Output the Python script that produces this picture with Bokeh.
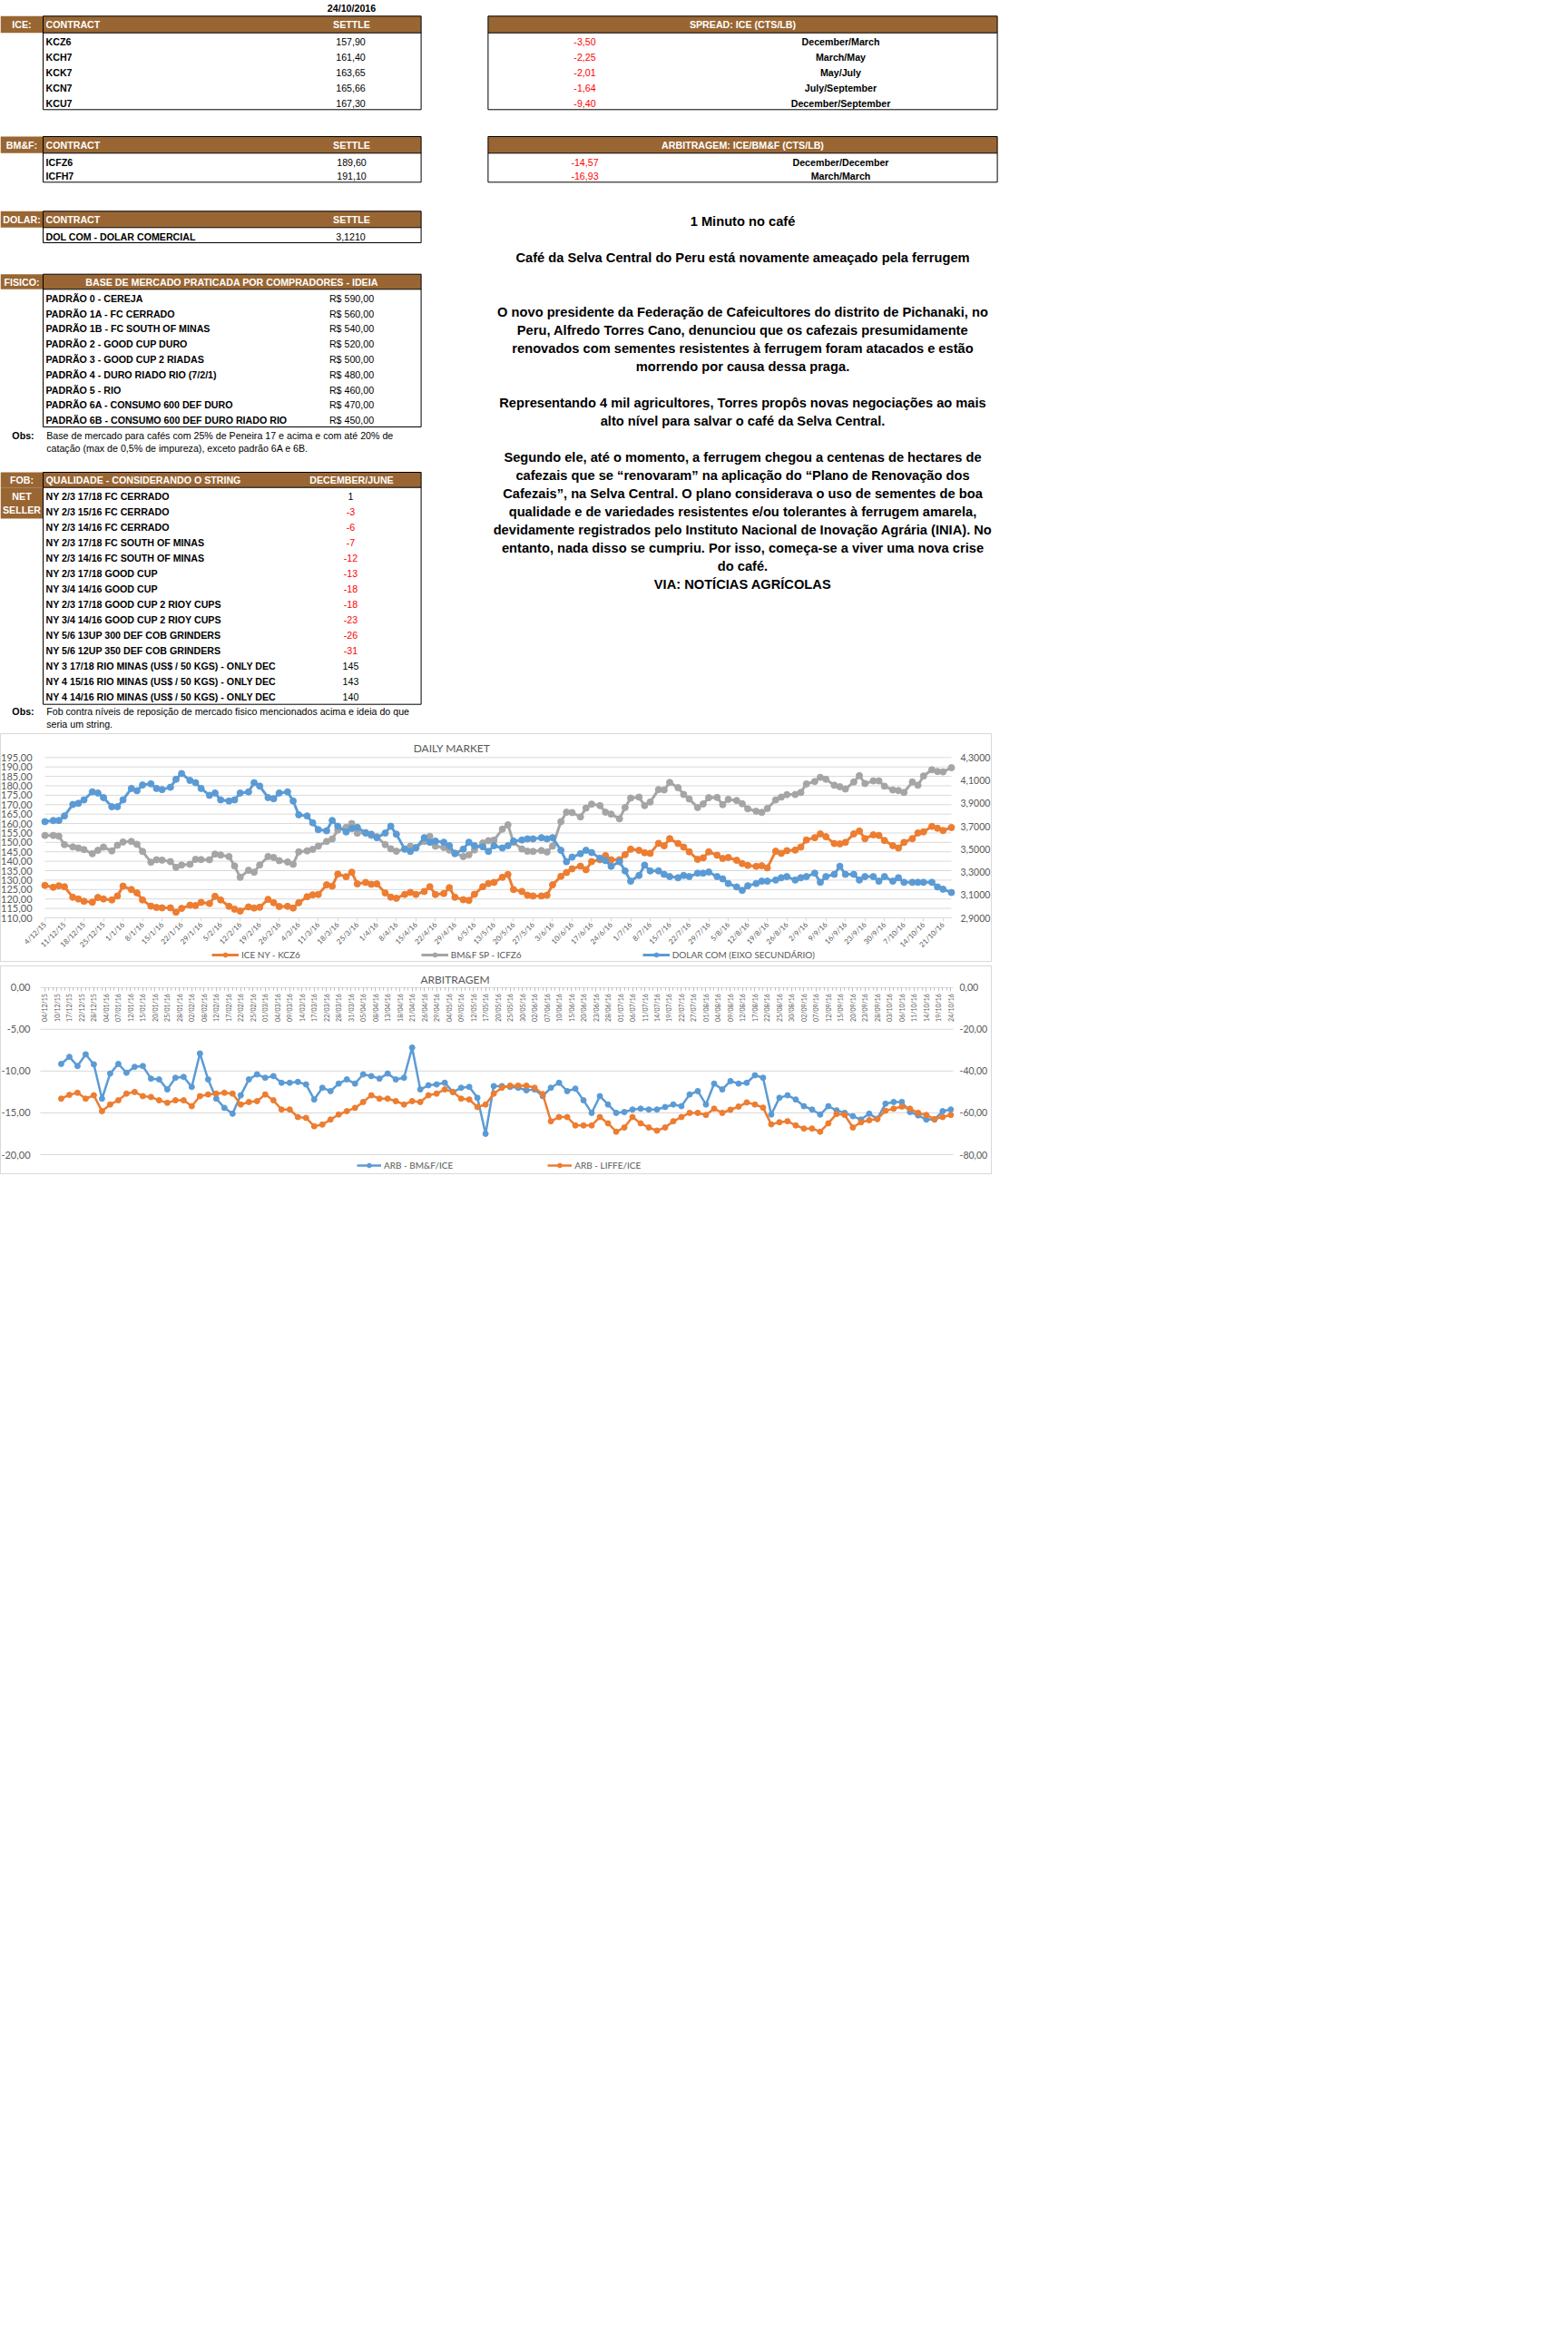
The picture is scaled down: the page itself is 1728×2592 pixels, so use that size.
import pandas as pd
from math import pi
from bokeh.plotting import figure
from bokeh.models import (Range1d, LinearAxis, FixedTicker, CustomJSTickFormatter, Legend,
                          LegendItem, Label, ColumnDataSource)
from bokeh.layouts import column
from bokeh.core.properties import value
from bokeh.embed import file_html
from bokeh.resources import INLINE

# ------------------------------------------------------------------ data
report_date = "24/10/2016"

ice_contracts = ["KCZ6", "KCH7", "KCK7", "KCN7", "KCU7"]
ice_settle = [157.90, 161.40, 163.65, 165.66, 167.30]
spread_values = [-3.50, -2.25, -2.01, -1.64, -9.40]
spread_labels = ["December/March", "March/May", "May/July", "July/September", "December/September"]

bmf_contracts = ["ICFZ6", "ICFH7"]
bmf_settle = [189.60, 191.10]
arbit_values = [-14.57, -16.93]
arbit_labels = ["December/December", "March/March"]

dolar_contracts = ["DOL COM - DOLAR COMERCIAL"]
dolar_settle = [3.1210]

fisico_labels = ["PADRÃO 0 - CEREJA", "PADRÃO 1A - FC CERRADO", "PADRÃO 1B - FC SOUTH OF MINAS",
                 "PADRÃO 2 - GOOD CUP DURO", "PADRÃO 3 - GOOD CUP 2 RIADAS",
                 "PADRÃO 4 - DURO RIADO RIO (7/2/1)", "PADRÃO 5 - RIO",
                 "PADRÃO 6A - CONSUMO 600 DEF DURO", "PADRÃO 6B - CONSUMO 600 DEF DURO RIADO RIO"]
fisico_values = [590, 560, 540, 520, 500, 480, 460, 470, 450]
fisico_obs = ["Base de mercado para cafés com 25% de Peneira 17 e acima e com até 20% de",
              "catação (max de 0,5% de impureza), exceto padrão 6A e 6B."]

fob_labels = ["NY 2/3 17/18 FC CERRADO", "NY 2/3 15/16 FC CERRADO", "NY 2/3 14/16 FC CERRADO",
              "NY 2/3 17/18 FC SOUTH OF MINAS", "NY 2/3 14/16 FC SOUTH OF MINAS",
              "NY 2/3 17/18 GOOD CUP", "NY 3/4 14/16 GOOD CUP", "NY 2/3 17/18 GOOD CUP 2 RIOY CUPS",
              "NY 3/4 14/16 GOOD CUP 2 RIOY CUPS", "NY 5/6 13UP 300 DEF COB GRINDERS",
              "NY 5/6 12UP 350 DEF COB GRINDERS", "NY 3 17/18 RIO MINAS (US$ / 50 KGS) - ONLY DEC",
              "NY 4 15/16 RIO MINAS (US$ / 50 KGS) - ONLY DEC", "NY 4 14/16 RIO MINAS (US$ / 50 KGS) - ONLY DEC"]
fob_values = [1, -3, -6, -7, -12, -13, -18, -18, -23, -26, -31, 145, 143, 140]
fob_obs = ["Fob contra níveis de reposição de mercado fisico mencionados acima e ideia do que",
           "seria um string."]

news_title = ["1 Minuto no café", "Café da Selva Central do Peru está novamente ameaçado pela ferrugem"]
news_lines = [
    "O novo presidente da Federação de Cafeicultores do distrito de Pichanaki, no",
    "Peru, Alfredo Torres Cano, denunciou que os cafezais presumidamente",
    "renovados com sementes resistentes à ferrugem foram atacados e estão",
    "morrendo por causa dessa praga.",
    "",
    "Representando 4 mil agricultores, Torres propôs novas negociações ao mais",
    "alto nível para salvar o café da Selva Central.",
    "",
    "Segundo ele, até o momento, a ferrugem chegou a centenas de hectares de",
    "cafezais que se “renovaram” na aplicação do “Plano de Renovação dos",
    "Cafezais”, na Selva Central. O plano considerava o uso de sementes de boa",
    "qualidade e de variedades resistentes e/ou tolerantes à ferrugem amarela,",
    "devidamente registrados pelo Instituto Nacional de Inovação Agrária (INIA). No",
    "entanto, nada disso se cumpriu. Por isso, começa-se a viver uma nova crise",
    "do café.",
    "VIA: NOTÍCIAS AGRÍCOLAS",
]

# DAILY MARKET: samples on Mon/Wed/Fri from 4/12/15 to 24/10/16
daily_start = pd.Timestamp("2015-12-04")
_all = pd.date_range("2015-12-04", "2016-10-24", freq="D")
daily_dates = _all[_all.weekday.isin([0, 2, 4])]
daily_x = list((daily_dates - daily_start).days)

ice_kcz6 = [127.2,
    126.2, 127.0, 126.5,  120.9, 120.0, 118.8,  118.3, 120.8, 120.0,  119.5, 121.6, 126.8,
    125.0, 123.2, 119.5,  116.2, 115.5, 115.3,  115.3, 113.0, 115.0,  116.7, 116.5, 118.2,
    117.6, 121.4, 119.5,  116.1, 114.6, 113.6,  115.8, 115.2, 115.6,  119.8, 118.0, 116.0,
    116.1, 115.2, 118.0,  121.2, 122.2, 122.4,  127.5, 126.8, 133.2,  131.8, 134.2, 128.0,
    128.8, 127.8, 128.0,  123.2, 121.0, 120.4,  122.4, 123.5, 122.4,  124.0, 126.5, 122.4,
    122.9, 126.0, 120.9,  119.6, 119.2, 122.5,  126.5, 128.2, 128.8,  131.5, 133.0, 125.0,
    124.0, 122.0, 121.6,  121.6, 122.0, 127.5,  132.0, 134.0, 136.0,  137.4, 135.5, 139.8,
    140.8, 143.0, 140.8,  140.8, 143.5, 146.4,  145.8, 144.5, 144.2,  149.5, 148.2, 152.0,
    149.4, 147.5, 145.0,  141.0, 141.8, 145.0,  143.2, 141.5, 142.0,  140.5, 138.8, 137.8,
    137.3, 137.6, 136.5,  145.3, 144.2, 145.6,  145.9, 147.5, 151.3,  152.5, 154.5, 153.0,
    149.4, 149.2, 150.0,  154.5, 156.0, 152.0,  154.0, 153.7, 151.0,  148.3, 147.0, 150.0,
    152.0, 155.0, 155.6,  158.5, 157.5, 156.3,
    157.9]

bmf_icfz6 = [153.7,
    153.7, 153.3, 148.8,  147.6, 147.0, 146.2,  144.0, 145.8, 147.5,  145.5, 148.5, 150.2,
    150.5, 149.0, 145.2,  139.5, 140.8, 140.6,  139.8, 136.8, 138.0,  138.4, 141.0, 140.9,
    140.8, 143.8, 143.3,  142.5, 137.5, 131.5,  135.2, 134.2, 138.0,  142.5, 142.0, 140.3,
    139.6, 138.4, 145.0,  145.5, 146.3, 148.0,  150.5, 151.8, 156.5,  158.0, 160.0, 154.9,
    155.2, 153.7, 153.0,  148.8, 146.6, 145.3,  146.5, 148.0, 147.3,  150.5, 153.2, 148.0,
    147.3, 145.9, 144.3,  142.5, 143.4, 146.0,  149.7, 150.9, 151.2,  157.0, 159.3, 150.0,
    146.5, 145.3, 145.2,  145.7, 144.9, 148.0,  161.0, 166.0, 165.8,  163.5, 168.2, 170.3,
    169.5, 166.0, 165.0,  162.5, 168.5, 173.5,  174.0, 169.5, 171.4,  178.0, 177.8, 181.8,
    179.0, 175.4, 173.0,  168.5, 170.4, 173.7,  173.8, 170.0, 172.8,  172.2, 170.5, 167.8,
    166.5, 165.9, 168.0,  172.5, 174.0, 175.3,  175.4, 176.5, 181.0,  182.3, 184.5, 183.5,
    180.3, 179.5, 178.3,  182.0, 185.4, 181.2,  182.6, 182.6, 179.8,  177.8, 177.5, 176.5,
    182.0, 180.3, 185.2,  188.5, 187.6, 187.4,
    189.6]

dolar_com = [3.74,
    3.75, 3.75, 3.79,  3.89, 3.90, 3.93,  4.00, 3.99, 3.95,  3.87, 3.87, 3.93,
    4.03, 4.01, 4.06,  4.07, 4.03, 4.02,  4.04, 4.11, 4.16,  4.10, 4.08, 4.03,
    3.97, 3.99, 3.93,  3.92, 3.93, 3.99,  4.00, 4.08, 4.05,  3.95, 3.94, 3.99,
    4.00, 3.92, 3.80,  3.79, 3.73, 3.67,  3.66, 3.75, 3.70,  3.65, 3.68, 3.69,
    3.64, 3.63, 3.60,  3.64, 3.70, 3.63,  3.50, 3.48, 3.51,  3.60, 3.56, 3.57,
    3.56, 3.53, 3.46,  3.50, 3.56, 3.53,  3.52, 3.48, 3.53,  3.51, 3.53, 3.57,
    3.58, 3.59, 3.59,  3.60, 3.59, 3.60,  3.49, 3.39, 3.43,  3.46, 3.49, 3.47,
    3.42, 3.40, 3.35,  3.39, 3.31, 3.22,  3.27, 3.36, 3.31,  3.31, 3.28, 3.26,
    3.25, 3.27, 3.26,  3.29, 3.29, 3.30,  3.26, 3.24, 3.20,  3.17, 3.14, 3.18,
    3.20, 3.22, 3.22,  3.23, 3.25, 3.26,  3.23, 3.25, 3.26,  3.29, 3.21, 3.26,
    3.28, 3.35, 3.28,  3.28, 3.23, 3.26,  3.26, 3.22, 3.26,  3.22, 3.25, 3.21,
    3.21, 3.21, 3.21,  3.21, 3.17, 3.15,
    3.121]

daily_tick_labels = ["4/12/15", "11/12/15", "18/12/15", "25/12/15", "1/1/16", "8/1/16", "15/1/16",
    "22/1/16", "29/1/16", "5/2/16", "12/2/16", "19/2/16", "26/2/16", "4/3/16", "11/3/16", "18/3/16",
    "25/3/16", "1/4/16", "8/4/16", "15/4/16", "22/4/16", "29/4/16", "6/5/16", "13/5/16", "20/5/16",
    "27/5/16", "3/6/16", "10/6/16", "17/6/16", "24/6/16", "1/7/16", "8/7/16", "15/7/16", "22/7/16",
    "29/7/16", "5/8/16", "12/8/16", "19/8/16", "26/8/16", "2/9/16", "9/9/16", "16/9/16", "23/9/16",
    "30/9/16", "7/10/16", "14/10/16", "21/10/16"]
daily_tick_days = [7 * k for k in range(len(daily_tick_labels))]
daily_left_ticks = list(range(110, 200, 5))
daily_usd_ticks = [2.9, 3.1, 3.3, 3.5, 3.7, 3.9, 4.1, 4.3]

# ARBITRAGEM: category axis (trading days), one label every 3 categories
arb_tick_labels = ["04/12/15", "10/12/15", "17/12/15", "22/12/15", "28/12/15", "04/01/16", "07/01/16",
    "12/01/16", "15/01/16", "20/01/16", "25/01/16", "28/01/16", "02/02/16", "08/02/16", "12/02/16",
    "17/02/16", "22/02/16", "25/02/16", "01/03/16", "04/03/16", "09/03/16", "14/03/16", "17/03/16",
    "22/03/16", "28/03/16", "31/03/16", "05/04/16", "08/04/16", "13/04/16", "18/04/16", "21/04/16",
    "26/04/16", "29/04/16", "04/05/16", "09/05/16", "12/05/16", "17/05/16", "20/05/16", "25/05/16",
    "30/05/16", "02/06/16", "07/06/16", "10/06/16", "15/06/16", "20/06/16", "23/06/16", "28/06/16",
    "01/07/16", "06/07/16", "11/07/16", "14/07/16", "19/07/16", "22/07/16", "27/07/16", "01/08/16",
    "04/08/16", "09/08/16", "12/08/16", "17/08/16", "22/08/16", "25/08/16", "30/08/16", "02/09/16",
    "07/09/16", "12/09/16", "15/09/16", "20/09/16", "23/09/16", "28/09/16", "03/10/16", "06/10/16",
    "11/10/16", "14/10/16", "19/10/16", "24/10/16"]
arb_n_categories = 3 * (len(arb_tick_labels) - 1) + 1
arb_x = list(range(4, arb_n_categories, 2))

arb_bmf_ice = [
    -9.15, -8.3, -9.4, -8.0, -9.2, -13.3, -10.3, -9.15, -10.2, -9.5,
    -9.4, -10.9, -11.0, -12.2, -10.8, -10.7, -11.9, -7.9, -11.0, -13.3,
    -14.4, -15.1, -12.9, -11.0, -10.4, -10.8, -10.6, -11.4, -11.4, -11.3,
    -11.6, -13.4, -12.0, -12.4, -11.5, -11.0, -11.5, -10.4, -10.6, -10.9,
    -10.3, -11.0, -10.8, -7.2, -12.2, -11.7, -11.6, -11.4, -12.5, -12.0,
    -11.9, -13.2, -17.5, -11.8, -11.8, -11.9, -12.0, -12.3, -12.2, -13.0,
    -12.0, -11.4, -12.4, -12.1, -13.5, -15.0, -13.0, -14.0, -15.0, -14.9,
    -14.6, -14.5, -14.6, -14.6, -14.3, -14.0, -14.2, -12.8, -12.4, -14.0,
    -11.5, -12.2, -11.2, -11.5, -11.4, -10.5, -10.8, -15.2, -13.2, -12.9,
    -13.4, -14.2, -14.6, -15.2, -14.2, -14.7, -15.0, -15.4, -15.8, -15.1,
    -15.7, -13.9, -13.7, -13.7, -14.9, -15.3, -15.8, -15.8, -14.8, -14.6]

arb_liffe_ice = [
    -53.2, -51.4, -50.4, -53.2, -51.6, -59.2, -56.0, -54.0, -50.8, -50.0,
    -52.0, -52.4, -54.0, -55.2, -54.0, -54.0, -56.8, -52.0, -51.2, -50.8,
    -50.4, -50.8, -56.0, -54.8, -54.4, -51.2, -54.0, -58.4, -58.4, -62.0,
    -62.4, -66.4, -65.6, -63.2, -60.8, -59.2, -57.6, -54.8, -51.6, -53.2,
    -53.2, -54.4, -56.0, -54.4, -54.8, -51.6, -50.8, -48.8, -50.0, -53.2,
    -53.6, -57.2, -56.0, -50.8, -48.0, -47.0, -47.0, -47.0, -48.0, -51.0,
    -64.0, -62.0, -62.0, -66.0, -66.0, -66.0, -62.0, -65.0, -69.0, -67.0,
    -62.0, -65.0, -67.0, -68.5, -67.0, -64.0, -62.0, -60.0, -60.0, -61.0,
    -58.0, -60.0, -58.5, -57.0, -55.0, -56.0, -57.5, -65.5, -64.5, -64.0,
    -66.0, -67.5, -67.5, -69.0, -65.0, -60.5, -61.0, -67.0, -64.5, -63.5,
    -63.0, -59.0, -58.0, -57.0, -58.0, -60.0, -61.0, -63.0, -62.0, -61.0]
arb_left_ticks = [-20, -15, -10, -5, 0]
arb_right_ticks = [-80, -60, -40, -20, 0]

# ------------------------------------------------------------------ styles
BROWN = "#996633"
RED = "#ff0000"
ORANGE = "#ed7d31"
GRAY = "#a5a5a5"
BLUE = "#5b9bd5"
GRID = "#d9d9d9"
AXTXT = "#595959"
TFONT = "Liberation Sans"
CFONT = "Lato"
TSIZE = "10.67px"
NSIZE = "14.67px"


def br(v, nd=2):
    return f"{v:.{nd}f}".replace(".", ",")


# ------------------------------------------------------------------ sheet (tables + text)
W1, H1 = 1100, 808
t = figure(width=W1, height=H1, x_range=Range1d(0, W1), y_range=Range1d(H1, 0),
           output_backend="svg", toolbar_location=None, x_axis_type=None, y_axis_type=None,
           min_border=0, outline_line_color=None)
t.frame_align = False

XA, XB, XC = 0, 47, 463.6        # label cell / left tables
XS1, XS2 = 537.4, 1098.6         # right tables

ICE_H, ICE_B = (17.3, 35.7), 120.3
BMF_H, BMF_B = (150.0, 168.3), 200.3
DOL_H, DOL_B = (232.3, 250.3), 267.0
FIS_H, FIS_B = (301.7, 318.3), 470.0
FOB_H, FOB_B = (520.0, 536.7), 775.7

browns = [(XA, XB, ICE_H), (XB, XC, ICE_H), (XS1, XS2, ICE_H),
          (XA, XB, BMF_H), (XB, XC, BMF_H), (XS1, XS2, BMF_H),
          (XA, XB, DOL_H), (XB, XC, DOL_H),
          (XA, XB, FIS_H), (XB, XC, FIS_H),
          (XA, XB, FOB_H), (XB, XC, FOB_H), (XA, XB, (FOB_H[1], 571.0))]
t.quad(left=[b[0] for b in browns], right=[b[1] for b in browns],
       top=[b[2][0] for b in browns], bottom=[b[2][1] for b in browns],
       fill_color=BROWN, line_color=None)

boxes = [(XB, XC, ICE_H, ICE_B), (XS1, XS2, ICE_H, ICE_B), (XB, XC, BMF_H, BMF_B),
         (XS1, XS2, BMF_H, BMF_B), (XB, XC, DOL_H, DOL_B), (XB, XC, FIS_H, FIS_B),
         (XB, XC, FOB_H, FOB_B)]
t.quad(left=[b[0] for b in boxes], right=[b[1] for b in boxes],
       top=[b[2][0] for b in boxes], bottom=[b[3] for b in boxes],
       fill_color=None, line_color="#000000", line_width=1)
t.segment(x0=[b[0] for b in boxes], x1=[b[1] for b in boxes],
          y0=[b[2][1] for b in boxes], y1=[b[2][1] for b in boxes],
          line_color="#000000", line_width=1)


def txt(xs, ys, texts, color="#000000", bold=True, align="left", size=TSIZE):
    t.text(x=xs, y=ys, text=texts, text_color=color, text_font=value(TFONT),
           text_font_style="bold" if bold else "normal", text_font_size=size,
           text_align=align, text_baseline="middle")


def mid(h):
    return (h[0] + h[1]) / 2


# header texts (white)
hy = [mid(ICE_H), mid(BMF_H), mid(DOL_H), mid(FIS_H), mid(FOB_H)]
txt([23.5] * 5, hy, ["ICE:", "BM&F:", "DOLAR:", "FISICO:", "FOB:"], "#ffffff", align="center")
txt([23.5, 23.5], [546.0, 561.0], ["NET", "SELLER"], "#ffffff", align="center")
txt([50, 50, 50, 50], [mid(ICE_H), mid(BMF_H), mid(DOL_H), mid(FOB_H)],
    ["CONTRACT", "CONTRACT", "CONTRACT", "QUALIDADE - CONSIDERANDO O STRING"], "#ffffff")
txt([387, 387, 387, 387, 255, 818, 818],
    [mid(ICE_H), mid(BMF_H), mid(DOL_H), mid(FOB_H), mid(FIS_H), mid(ICE_H), mid(BMF_H)],
    ["SETTLE", "SETTLE", "SETTLE", "DECEMBER/JUNE", "BASE DE MERCADO PRATICADA POR COMPRADORES - IDEIA",
     "SPREAD: ICE (CTS/LB)", "ARBITRAGEM: ICE/BM&F (CTS/LB)"], "#ffffff", align="center")

# date
txt([387], [8.3], [report_date], align="center")

# row positions
ice_y = [45.0 + 17 * k for k in range(len(ice_contracts))]
bmf_y = [178.0 + 15 * k for k in range(len(bmf_contracts))]
dol_y = [260.0]
fis_y = [328.3 + 16.8 * k for k in range(len(fisico_labels))]
fob_y = [546.7 + 17 * k for k in range(len(fob_labels))]

# left labels (bold)
txt([50] * 5, ice_y, ice_contracts)
txt([50] * 2, bmf_y, bmf_contracts)
txt([50], dol_y, dolar_contracts)
txt([50] * len(fisico_labels), fis_y, fisico_labels)
txt([50] * len(fob_labels), fob_y, fob_labels)

# settle numbers (regular)
txt([386] * 5, ice_y, [br(v) for v in ice_settle], bold=False, align="center")
txt([387] * 2, bmf_y, [br(v) for v in bmf_settle], bold=False, align="center")
txt([386], dol_y, [br(v, 4) for v in dolar_settle], bold=False, align="center")
txt([387] * len(fisico_values), fis_y, ["R$ " + br(v) for v in fisico_values], bold=False, align="center")
fob_txt = [str(v) for v in fob_values]
fob_col = [RED if v < 0 else "#000000" for v in fob_values]
t.text(x=[386] * len(fob_values), y=fob_y, text=fob_txt, text_color=fob_col, text_font=value(TFONT),
       text_font_size=TSIZE, text_align="center", text_baseline="middle")

# spreads / arbitrage
txt([644] * 5, ice_y, [br(v) for v in spread_values], RED, bold=False, align="center")
txt([926] * 5, ice_y, spread_labels, align="center")
txt([644] * 2, bmf_y, [br(v) for v in arbit_values], RED, bold=False, align="center")
txt([926] * 2, bmf_y, arbit_labels, align="center")

# obs
txt([25, 25], [479.0, 783.3], ["Obs:", "Obs:"], align="center")
txt([50.7, 50.7], [479.0, 493.3], fisico_obs, bold=False)
txt([50.7, 50.7], [783.3, 797.3], fob_obs, bold=False)

# news
txt([818, 818], [243.0, 283.0], news_title, align="center", size=NSIZE)
ny = [343.0 + 20 * k for k in range(len(news_lines))]
txt([818] * len(news_lines), ny, news_lines, align="center", size=NSIZE)


# ------------------------------------------------------------------ chart helpers
def yaxis(at, rng=None, ticks=None, nd=2, standoff=8, size="11px"):
    kw = dict(fixed_location=at, ticker=FixedTicker(ticks=ticks),
              formatter=CustomJSTickFormatter(code=f"return tick.toFixed({nd}).replace('.', ',');"),
              axis_line_color=None, major_tick_line_color=None, minor_tick_line_color=None,
              major_label_text_font=CFONT, major_label_text_font_size=size,
              major_label_text_color=AXTXT, major_label_standoff=standoff)
    if rng:
        kw["y_range_name"] = rng
    return LinearAxis(**kw)


def span_range(v0, v1, p0, p1, size):
    """data range so that v0 sits at pixel p0 and v1 at pixel p1 of a canvas of given size"""
    u = (v1 - v0) / (p1 - p0)
    return v0 - p0 * u, v0 + (size - p0) * u


# ------------------------------------------------------------------ DAILY MARKET
D_W, D_H = 1093, 252
D_XL, D_XR = 48, 1047           # pixel position of first / last day
D_Y195, D_Y110 = 25.3, 202.0    # pixel rows (from top) of 195 and 110
d_x0, d_x1 = span_range(0, 325, D_XL, D_XR, D_W)
d_ylo, d_yhi = span_range(110, 195, D_H - D_Y110, D_H - D_Y195, D_H)
d_ulo, d_uhi = span_range(2.9, 4.3, D_H - D_Y110, D_H - D_Y195, D_H)

daily = figure(width=D_W, height=D_H, x_range=Range1d(d_x0, d_x1), y_range=Range1d(d_ylo, d_yhi),
               output_backend="svg", toolbar_location=None, x_axis_type=None, y_axis_type=None,
               min_border=0, outline_line_color=None)
daily.frame_align = False
daily.styles = {"border": "1px solid #d9d9d9"}
daily.extra_y_ranges = {"usd": Range1d(d_ulo, d_uhi)}

daily.segment(x0=[0] * len(daily_left_ticks), x1=[325] * len(daily_left_ticks),
              y0=daily_left_ticks, y1=daily_left_ticks, line_color=GRID, line_width=1)

xax = LinearAxis(fixed_location=110, bounds=(0, 325), ticker=FixedTicker(ticks=daily_tick_days),
                 major_label_overrides={d: s for d, s in zip(daily_tick_days, daily_tick_labels)},
                 major_label_orientation=pi / 4, axis_line_color=GRID, major_tick_line_color=GRID,
                 major_tick_in=0, major_tick_out=4, minor_tick_line_color=None,
                 major_label_text_font=CFONT, major_label_text_font_size="8px",
                 major_label_text_color=AXTXT, major_label_standoff=2)
daily.add_layout(xax, "below")
daily.add_layout(yaxis(0, ticks=daily_left_ticks, nd=2, standoff=8), "left")
daily.add_layout(yaxis(325, "usd", daily_usd_ticks, nd=4, standoff=4, size="10.5px"), "right")

dsrc = ColumnDataSource(dict(x=daily_x, ice=ice_kcz6, bmf=bmf_icfz6, usd=dolar_com))
l1 = daily.line("x", "ice", source=dsrc, line_color=ORANGE, line_width=3)
s1 = daily.scatter("x", "ice", source=dsrc, marker="circle", size=7, fill_color=ORANGE, line_color=ORANGE)
l2 = daily.line("x", "bmf", source=dsrc, line_color=GRAY, line_width=3)
s2 = daily.scatter("x", "bmf", source=dsrc, marker="circle", size=7, fill_color=GRAY, line_color=GRAY)
l3 = daily.line("x", "usd", source=dsrc, y_range_name="usd", line_color=BLUE, line_width=3)
s3 = daily.scatter("x", "usd", source=dsrc, y_range_name="usd", marker="circle", size=7,
                   fill_color=BLUE, line_color=BLUE)

daily.add_layout(Legend(items=[LegendItem(label="ICE NY - KCZ6", renderers=[l1, s1]),
                               LegendItem(label="BM&F SP - ICFZ6", renderers=[l2, s2]),
                               LegendItem(label="DOLAR COM (EIXO SECUNDÁRIO)", renderers=[l3, s3])],
                        location=(232, 3), orientation="horizontal", spacing=133, glyph_width=30,
                        glyph_height=12, label_height=12, label_standoff=3, padding=0, margin=0,
                        border_line_color=None, background_fill_alpha=0, label_text_font=CFONT,
                        label_text_font_size="10px", label_text_color=AXTXT))
daily.add_layout(Label(x=d_x0 + 496.5 * (d_x1 - d_x0) / D_W, y=d_yhi - 15 * (d_yhi - d_ylo) / D_H,
                       text="DAILY MARKET", text_align="center", text_baseline="middle",
                       text_font=CFONT, text_font_size="12px", text_color=AXTXT))

# ------------------------------------------------------------------ ARBITRAGEM
A_W, A_H = 1093, 230
A_XL, A_XR = 43, 1049           # pixel position of the plot-area edges
A_C0, A_C1 = -1.1, 222.6        # category coordinates at those edges
A_Y0, A_Y20 = 22.7, 207.0       # pixel rows (from top) of 0 and -20
a_x0, a_x1 = span_range(A_C0, A_C1, A_XL, A_XR, A_W)
a_ylo, a_yhi = span_range(-20, 0, A_H - A_Y20, A_H - A_Y0, A_H)
a_rlo, a_rhi = span_range(-80, 0, A_H - A_Y20, A_H - A_Y0, A_H)

arb = figure(width=A_W, height=A_H, x_range=Range1d(a_x0, a_x1), y_range=Range1d(a_ylo, a_yhi),
             output_backend="svg", toolbar_location=None, x_axis_type=None, y_axis_type=None,
             min_border=0, outline_line_color=None)
arb.frame_align = False
arb.styles = {"border": "1px solid #d9d9d9", "margin-top": "4px"}
arb.extra_y_ranges = {"right": Range1d(a_rlo, a_rhi)}

arb.segment(x0=[A_C0] * 4, x1=[A_C1] * 4, y0=arb_left_ticks[:-1], y1=arb_left_ticks[:-1],
            line_color=GRID, line_width=1)

arb_ticks = [3 * k for k in range(len(arb_tick_labels))]
tax = LinearAxis(fixed_location=0, bounds=(A_C0, A_C1),
                 ticker=FixedTicker(ticks=arb_ticks, minor_ticks=list(range(arb_n_categories))),
                 major_label_overrides={k: s for k, s in zip(arb_ticks, arb_tick_labels)},
                 major_label_orientation=pi / 2, major_label_standoff=3,
                 major_label_text_font=CFONT, major_label_text_font_size="7px",
                 major_label_text_color=AXTXT,
                 axis_line_color=GRID, major_tick_line_color="#bfbfbf", minor_tick_line_color="#bfbfbf",
                 major_tick_in=0, major_tick_out=4, minor_tick_in=0, minor_tick_out=3)
arb.add_layout(tax, "below")
arb.add_layout(yaxis(A_C0, ticks=arb_left_ticks, nd=2, standoff=5), "left")
arb.add_layout(yaxis(A_C1, "right", arb_right_ticks, nd=2, standoff=1, size="10.5px"), "right")

asrc = ColumnDataSource(dict(x=arb_x, bmf=arb_bmf_ice, liffe=arb_liffe_ice))
b1 = arb.line("x", "bmf", source=asrc, line_color=BLUE, line_width=2.5)
b2 = arb.scatter("x", "bmf", source=asrc, marker="circle", size=6, fill_color=BLUE, line_color=BLUE)
o1 = arb.line("x", "liffe", source=asrc, y_range_name="right", line_color=ORANGE, line_width=2.5)
o2 = arb.scatter("x", "liffe", source=asrc, y_range_name="right", marker="circle", size=6,
                 fill_color=ORANGE, line_color=ORANGE)

arb.add_layout(Legend(items=[LegendItem(label="ARB - BM&F/ICE", renderers=[b1, b2]),
                             LegendItem(label="ARB - LIFFE/ICE", renderers=[o1, o2])],
                      location=(392, 5), orientation="horizontal", spacing=104, glyph_width=27,
                      glyph_height=12, label_height=12, label_standoff=3, padding=0, margin=0,
                      border_line_color=None, background_fill_alpha=0, label_text_font=CFONT,
                      label_text_font_size="10px", label_text_color=AXTXT))
arb.add_layout(Label(x=a_x0 + 500 * (a_x1 - a_x0) / A_W, y=a_yhi - 14 * (a_yhi - a_ylo) / A_H,
                     text="ARBITRAGEM", text_align="center", text_baseline="middle",
                     text_font=CFONT, text_font_size="12px", text_color=AXTXT))

page = column(t, daily, arb, spacing=0)
open("out.html", "w").write(file_html(page, INLINE))
